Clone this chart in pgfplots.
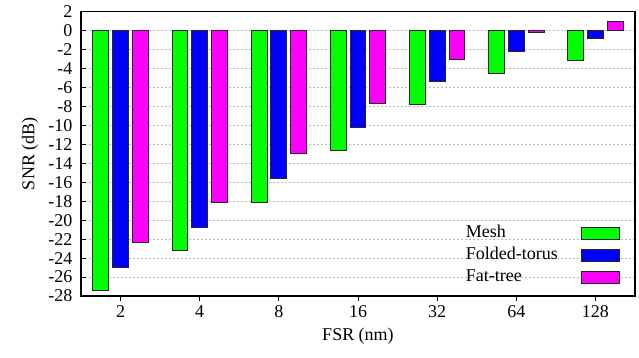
\documentclass[border=0pt]{standalone}
\usepackage{fontspec}
\setmainfont{Liberation Serif}
\usepackage{pgfplots}
\pgfplotsset{compat=1.18}
\definecolor{cMesh}{RGB}{0,255,0}
\definecolor{cFT}{RGB}{0,0,255}
\definecolor{cFat}{RGB}{255,0,255}
\begin{document}
\begin{tikzpicture}[font=\fontsize{18}{21.6}\selectfont]
\begin{axis}[
  at={(0,0)}, anchor=south west,
  scale only axis, width=554pt, height=284.5pt,
  xmin=-0.5, xmax=6.5, ymin=-28, ymax=2,
  xtick={0,1,2,3,4,5,6}, xticklabels={2,4,8,16,32,64,128},
  ytick={-28,-26,...,2},
  /pgf/number format/assume math mode=true,
  tick label style={font=\fontsize{18}{21.6}\selectfont},
  yticklabel style={xshift=-5pt},
  xticklabel style={yshift=-1pt},
  xtick pos=bottom, ytick pos=left, tick align=inside,
  major tick length=5pt,
  axis line style={line width=1.1pt},
  every tick/.style={black, line width=0.8pt},
  ymajorgrids, major grid style={gray!55, dash pattern=on 1.5pt off 2.5pt, line width=0.6pt},
  xlabel={FSR (nm)}, ylabel={SNR (dB)},
  xlabel style={at={(axis description cs:0.5,-0.1406)}, anchor=center},
  ylabel style={at={(axis description cs:-0.0921,0.5)}, anchor=center, rotate=0},
  ybar, bar width=0.2,
  legend plot pos=right,
  legend cell align=left,
  legend image code/.code={\draw[#1, line width=0.9pt] (0pt,-6pt) rectangle (38pt,6pt);},
  legend style={at={(rel axis cs:1,0)}, anchor=south east, xshift=-15pt, yshift=10pt,
    draw=none, fill=none, inner sep=0pt, row sep=5pt, column sep=23pt,
    nodes={inner sep=0pt, text height=13pt, text depth=4pt}},
]
\addplot[fill=cMesh, draw=black!85, line width=0.9pt, bar shift=-0.25] coordinates {
 (0,-27.4) (1,-23.2) (2,-18.1) (3,-12.6) (4,-7.8) (5,-4.55) (6,-3.2)};
\addplot[fill=cFT, draw=black!85, line width=0.9pt, bar shift=0] coordinates {
 (0,-25.0) (1,-20.8) (2,-15.65) (3,-10.2) (4,-5.4) (5,-2.2) (6,-0.87)};
\addplot[fill=cFat, draw=black!85, line width=0.9pt, bar shift=0.25] coordinates {
 (0,-22.35) (1,-18.1) (2,-13.0) (3,-7.7) (4,-3.1) (5,-0.2) (6,0.97)};
\legend{Mesh, Folded-torus, Fat-tree}
\end{axis}
\pgfresetboundingbox
\path (-81pt,-62pt) rectangle (558pt,296pt);
\end{tikzpicture}
\end{document}
